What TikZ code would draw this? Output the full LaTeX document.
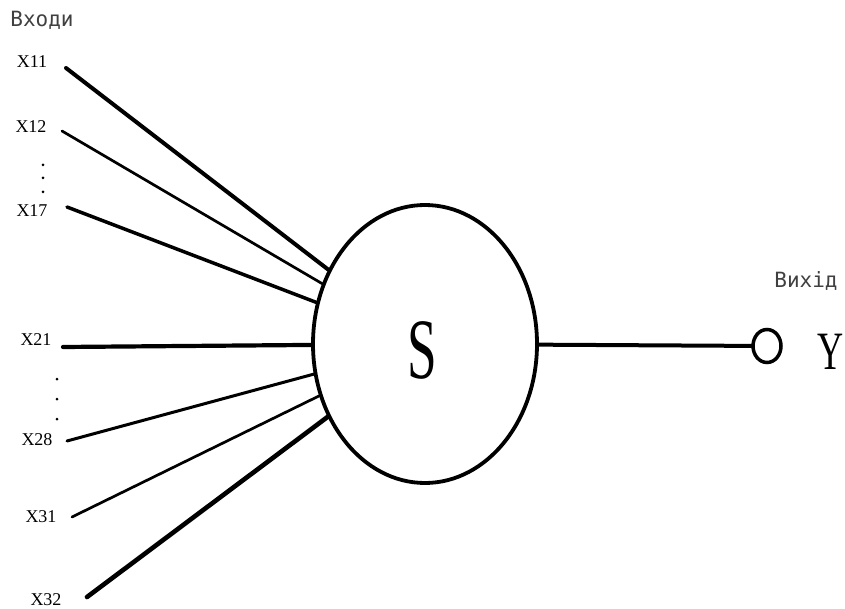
\documentclass[tikz,border=0pt]{standalone}
\usepackage{fontspec}
\setmainfont{Liberation Serif}
\newfontfamily\capfont{DejaVu Sans Mono}
\usetikzlibrary{shapes.geometric}

\begin{document}
\begin{tikzpicture}[x=1pt,y=-1pt,line cap=round,
  inlbl/.style={font=\fontsize{18}{18}\selectfont,inner sep=0pt},
  caption/.style={font=\capfont\fontsize{21}{21}\selectfont,text=black!75,inner sep=0pt},
  dotmark/.style={fill=black}]
\useasboundingbox (0,0) rectangle (845,609);
% summing unit
\node[ellipse,draw,line width=3.8pt,minimum width=224pt,minimum height=278pt,inner sep=0pt] (S) at (425,344) {};
\node[xscale=0.62,font=\fontsize{86}{86}\selectfont] (Slbl) at (422,350) {S};
% inputs
\node[caption] (vkhody) at (42,20) {Входи};
\node[inlbl] (l11) at (32,62) {X11};
\node[inlbl] (l12) at (31,127) {X12};
\node[inlbl] (l17) at (32,211) {X17};
\node[inlbl] (l21) at (36,340) {X21};
\node[inlbl] (l28) at (37,440) {X28};
\node[inlbl] (l31) at (41,517) {X31};
\node[inlbl] (l32) at (46,600) {X32};
\coordinate (x11) at (66,68);
\coordinate (x12) at (62,131);
\coordinate (x17) at (67,207);
\coordinate (x21) at (63,347);
\coordinate (x28) at (67,441);
\coordinate (x31) at (72,517);
\coordinate (x32) at (87,597);
\draw[line width=4pt] (x11) -- (S);
\draw[line width=2.7pt] (x12) -- (S);
\draw[line width=3.5pt] (x17) -- (S);
\draw[line width=4.2pt] (x21) -- (S);
\draw[line width=3pt] (x28) -- (S);
\draw[line width=2.7pt] (x31) -- (S);
\draw[line width=4.6pt] (x32) -- (S);
\foreach \y in {165,178,192} \fill[dotmark] (43,\y) circle (1.5);
\foreach \y in {379,399,419} \fill[dotmark] (57,\y) circle (1.5);
% output
\node[ellipse,draw,line width=3.5pt,minimum width=28pt,minimum height=33pt,inner sep=0pt] (out) at (767,346) {};
\draw[line width=4pt] (S) -- (out);
\node[caption] (vykhid) at (806,281) {Вихід};
\node[xscale=0.67,font=\fontsize{54}{54}\selectfont] (Y) at (831,352) {Y};
\end{tikzpicture}
\end{document}
